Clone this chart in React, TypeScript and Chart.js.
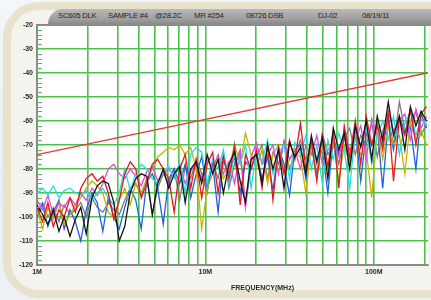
import React, { useEffect, useRef } from "react";
import { Chart, registerables } from "chart.js";

Chart.register(...registerables);

// Frequencies in MHz shared by all measured sweeps
const FREQ_MHZ = [
  1.0, 1.08, 1.16, 1.25, 1.35, 1.45, 1.57, 1.69,
  1.82, 1.96, 2.12, 2.28, 2.46, 2.65, 2.86, 3.08,
  3.32, 3.58, 3.86, 4.16, 4.49, 4.84, 5.21, 5.62,
  6.06, 6.53, 7.04, 7.59, 8.18, 8.82, 9.51, 10.25,
  11.05, 11.9, 12.8, 13.8, 14.9, 16.1, 17.3, 18.7,
  20.1, 21.7, 23.4, 25.2, 27.2, 29.3, 31.6, 34.0,
  36.7, 39.5, 42.6, 45.9, 49.5, 53.4, 57.5, 62.0,
  66.8, 72.0, 77.7, 83.7, 90.2, 97.3, 104.9, 113,
  122, 131, 142, 153, 165, 178, 191, 206,
];

const RED_DB = [
  -96, -102, -94, -104, -97, -100, -92, -98,
  -88, -84, -82, -85, -83, -90, -101, -93,
  -82, -77, -80, -92, -86, -78, -76, -80,
  -84, -98, -80, -74, -88, -76, -92, -78,
  -73, -90, -75, -84, -70, -95, -74, -80,
  -72, -88, -70, -93, -71, -82, -68, -76,
  -61, -80, -68, -85, -66, -79, -64, -88,
  -62, -75, -60, -78, -58, -70, -61, -72,
  -57, -85, -59, -66, -55, -70, -57, -54,
];
const BLACK_DB = [
  -95, -99, -103, -97, -106, -100, -108, -101,
  -96, -107, -92, -87, -85, -86, -94, -110,
  -104, -90, -84, -82, -83, -99, -86, -80,
  -88, -82, -79, -94, -80, -77, -86, -74,
  -82, -76, -90, -78, -73, -85, -94, -76,
  -74, -86, -70, -80, -72, -88, -69, -75,
  -71, -82, -66, -77, -67, -84, -63, -72,
  -65, -80, -62, -71, -60, -76, -58, -68,
  -52, -66, -58, -72, -54, -62, -56, -60,
];
const BLUE_DB = [
  -100, -95, -104, -98, -93, -105, -97, -102,
  -110, -97, -90, -94, -106, -92, -100, -105,
  -96, -88, -93, -105, -85, -82, -88, -103,
  -84, -80, -86, -78, -92, -82, -75, -88,
  -78, -98, -76, -82, -75, -90, -77, -80,
  -73, -84, -75, -89, -71, -78, -91, -72,
  -70, -84, -68, -76, -72, -90, -67, -74,
  -66, -78, -63, -85, -65, -70, -62, -88,
  -60, -72, -58, -65, -62, -80, -57, -63,
];
const YELLOW_DB = [
  -97, -105, -96, -101, -94, -103, -99, -95,
  -92, -88, -85, -87, -90, -98, -100, -93,
  -88, -95, -86, -90, -84, -80, -75, -73,
  -71, -72, -70, -74, -71, -80, -105, -88,
  -82, -76, -84, -80, -70, -78, -65, -74,
  -80, -72, -86, -74, -70, -82, -76, -73,
  -75, -90, -70, -78, -72, -80, -68, -85,
  -70, -78, -66, -74, -72, -92, -64, -76,
  -62, -70, -66, -82, -60, -68, -64, -70,
];
const CYAN_DB = [
  -90, -88, -91, -87, -92, -89, -88, -90,
  -91, -89, -93, -90, -88, -92, -95, -90,
  -80, -89, -82, -78, -80, -84, -86, -81,
  -79, -84, -77, -90, -74, -71, -73, -86,
  -76, -80, -72, -86, -74, -78, -70, -88,
  -72, -77, -68, -82, -73, -70, -84, -69,
  -74, -66, -80, -70, -86, -68, -76, -65,
  -72, -88, -64, -70, -62, -78, -66, -60,
  -68, -58, -74, -61, -56, -66, -59, -62,
];
const MAGENTA_DB = [
  -93, -97, -91, -99, -94, -96, -92, -95,
  -90, -93, -88, -91, -86, -80, -78, -82,
  -84, -80, -83, -87, -81, -79, -85, -82,
  -80, -83, -79, -86, -81, -78, -84, -76,
  -80, -74, -82, -77, -86, -73, -96, -75,
  -69, -78, -74, -70, -82, -68, -76, -72,
  -80, -70, -74, -66, -78, -72, -69, -75,
  -64, -72, -68, -62, -76, -59, -66, -70,
  -56, -64, -60, -57, -68, -55, -63, -58,
];
const GRAY_DB = [
  -98, -94, -100, -96, -102, -95, -99, -97,
  -94, -100, -92, -96, -98, -94, -97, -99,
  -93, -88, -86, -91, -84, -99, -88, -82,
  -86, -80, -93, -79, -84, -76, -82, -90,
  -77, -84, -74, -88, -78, -72, -95, -79,
  -75, -70, -84, -73, -78, -69, -80, -74,
  -68, -76, -71, -82, -65, -74, -70, -78,
  -67, -63, -74, -66, -70, -61, -75, -64,
  -59, -70, -52, -64, -60, -56, -66, -61,
];

// Limit line (straight in log frequency)
const LIMIT_FREQ = [1, 210];
const LIMIT_DB = [-74, -39.9];

// Axes
const X_MIN = 1;
const X_MAX = 210;
const X_GRID = [1, 2, 3, 4, 5, 6, 7, 8, 9, 10, 20, 30, 40, 50, 60, 70, 80, 90, 100, 200];
const X_LABELED = [1, 10, 100];
const X_LABEL_TEXT = ["1M", "10M", "100M"];
const Y_TICKS = [-120, -110, -100, -90, -80, -70, -60, -50, -40, -30, -20];

const TITLE_PARTS = ["SC605 DLK", "SAMPLE #4", "@28.2C", "MR #254", "08726 DSB", "DJ-02", "08/19/11"];
const TITLE_X = [58, 108, 155, 194, 246, 318, 362];

const SERIES = [
  { label: "Black", data: BLACK_DB, color: "#141414" },
  { label: "Red", data: RED_DB, color: "#e8161e" },
  { label: "Cyan", data: CYAN_DB, color: "#22dde6" },
  { label: "Magenta", data: MAGENTA_DB, color: "#e04ae0" },
  { label: "Yellow", data: YELLOW_DB, color: "#c9b000" },
  { label: "Blue", data: BLUE_DB, color: "#1e60e0" },
  { label: "Gray", data: GRAY_DB, color: "#7c7c7c" },
];

const GRID_GREEN = "#4cc24c";

const plotDecor = {
  id: "plotDecor",
  beforeDraw(chart: any) {
    const { ctx, chartArea } = chart;
    ctx.save();
    ctx.fillStyle = "#ffffff";
    ctx.fillRect(chartArea.left, chartArea.top, chartArea.right - chartArea.left, chartArea.bottom - chartArea.top);
    ctx.restore();
  },
  afterDatasetsDraw(chart: any) {
    const { ctx, chartArea, scales } = chart;
    const y = scales.y;
    ctx.save();
    ctx.strokeStyle = GRID_GREEN;
    ctx.lineWidth = 1;
    for (let v = -118; v < -20; v += 2) {
      if (v % 10 === 0) continue;
      const py = Math.round(y.getPixelForValue(v)) + 0.5;
      ctx.beginPath();
      ctx.moveTo(chartArea.left, py);
      ctx.lineTo(chartArea.left + 5, py);
      ctx.stroke();
    }
    ctx.strokeStyle = "#8a8a8a";
    ctx.lineWidth = 2;
    ctx.beginPath();
    ctx.moveTo(chartArea.left, chartArea.top);
    ctx.lineTo(chartArea.right + 5, chartArea.top);
    ctx.stroke();
    ctx.restore();
  },
};

export default function App() {
  const canvasRef = useRef<HTMLCanvasElement | null>(null);

  useEffect(() => {
    if (!canvasRef.current) return;
    const datasets: any[] = [
      {
        label: "Limit",
        data: LIMIT_FREQ.map((f, i) => ({ x: f, y: LIMIT_DB[i] })),
        borderColor: "#e23a36",
        borderWidth: 1.3,
        pointRadius: 0,
      },
      ...SERIES.map((s) => ({
        label: s.label,
        data: FREQ_MHZ.map((f, i) => ({ x: f, y: s.data[i] })),
        borderColor: s.color,
        borderWidth: 1.3,
        pointRadius: 0,
        tension: 0,
      })),
    ];
    const font = { family: "'Liberation Sans', Arial, sans-serif", size: 7, weight: "bold" as const };
    const chart = new Chart(canvasRef.current, {
      type: "line",
      data: { datasets },
      plugins: [plotDecor],
      options: {
        animation: false,
        responsive: false,
        devicePixelRatio: 1,
        layout: { padding: { left: 0, top: 25, right: 3, bottom: 0 } },
        plugins: { legend: { display: false }, tooltip: { enabled: false }, title: { display: false } },
        scales: {
          x: {
            type: "logarithmic",
            min: X_MIN,
            max: X_MAX,
            afterBuildTicks: (s: any) => {
              s.ticks = X_GRID.map((v) => ({ value: v }));
            },
            afterFit: (s: any) => {
              s.height = 35;
            },
            ticks: {
              autoSkip: false,
              maxRotation: 0,
              padding: 3,
              color: "#2a2a2a",
              font,
              callback: (value: any) => {
                const i = X_LABELED.indexOf(Number(value));
                return i >= 0 ? X_LABEL_TEXT[i] : "";
              },
            },
            grid: { color: GRID_GREEN, lineWidth: 1.6, drawTicks: false },
            border: { color: "#8a8a8a", width: 2 },
          },
          y: {
            type: "linear",
            min: -120,
            max: -20,
            afterBuildTicks: (s: any) => {
              s.ticks = Y_TICKS.map((v) => ({ value: v }));
            },
            afterFit: (s: any) => {
              s.width = 37;
            },
            ticks: { padding: 4, color: "#2a2a2a", font },
            grid: { color: GRID_GREEN, lineWidth: 1.6, drawTicks: false },
            border: { color: "#8a8a8a", width: 2 },
          },
        },
      },
    });
    return () => chart.destroy();
  }, []);

  return (
    <div
      style={{
        position: "fixed",
        left: 0,
        top: 0,
        width: 431,
        height: 300,
        overflow: "hidden",
        background: "linear-gradient(180deg, #f3f6fa 0%, #e9eef4 60%, #edf1f6 100%)",
        fontFamily: "'Liberation Sans', Arial, sans-serif",
      }}
    >
      <div
        style={{
          position: "absolute",
          left: 3,
          top: 2,
          width: 470,
          height: 296,
          borderRadius: 36,
          border: "8px solid #e8e2cd",
          background: "#f4f3ee",
          boxSizing: "border-box",
        }}
      />
      <div
        style={{
          position: "absolute",
          left: 48,
          top: 9,
          width: 400,
          height: 15,
          borderTopLeftRadius: 16,
          background: "linear-gradient(180deg, #b9b9b9 0%, #9e9e9e 70%, #8a8a8a 100%)",
        }}
      />
      {TITLE_PARTS.map((t, i) => (
        <span
          key={t}
          style={{
            position: "absolute",
            left: TITLE_X[i],
            top: 10,
            fontSize: 7.8,
            letterSpacing: -0.3,
            lineHeight: "11px",
            color: "#262626",
            whiteSpace: "nowrap",
          }}
        >
          {t}
        </span>
      ))}
      <canvas
        ref={canvasRef}
        width={431}
        height={300}
        style={{ position: "absolute", left: 0, top: 0, width: 431, height: 300, display: "block" }}
      />
      <span
        style={{
          position: "absolute",
          left: 231,
          top: 284,
          fontSize: 7,
          fontWeight: "bold",
          color: "#2a2a2a",
          whiteSpace: "nowrap",
        }}
      >
        FREQUENCY(MHz)
      </span>
    </div>
  );
}
